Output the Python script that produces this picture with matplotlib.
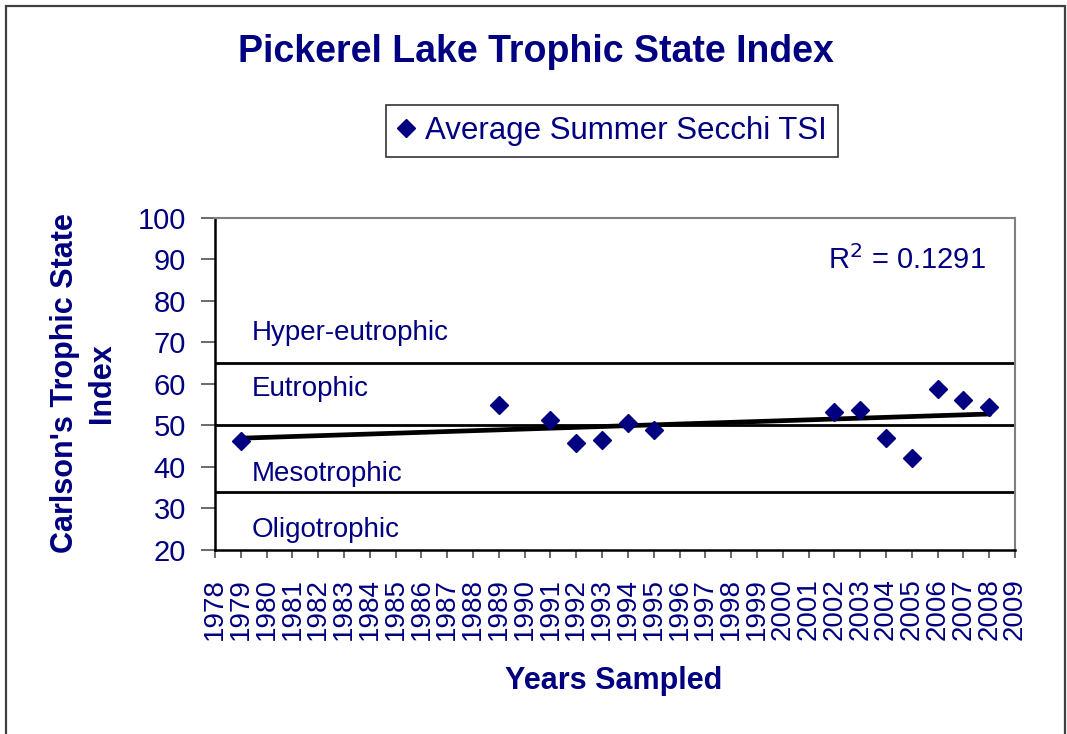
import numpy as np
import matplotlib
matplotlib.use('Agg')
import matplotlib.pyplot as plt
from matplotlib.patches import Rectangle

plt.rcParams['font.family'] = ['Liberation Sans', 'DejaVu Sans']

# Datos
years = [1979, 1989, 1991, 1992, 1993, 1994, 1995, 2002, 2003, 2004, 2005, 2006, 2007, 2008]
tsi = [46.3, 55.0, 51.3, 45.9, 46.4, 50.7, 48.8, 53.3, 53.7, 46.9, 42.2, 58.7, 56.2, 54.4]

# Límites de estado trófico
limites = [65, 50, 34]
clases = ['Hyper-eutrophic', 'Eutrophic', 'Mesotrophic', 'Oligotrophic']
clases_y = [72.2, 58.9, 38.2, 24.7]

navy = '#000080'

fig = plt.figure(figsize=(10.67, 7.34), dpi=100)
ax = fig.add_axes([0.2015, 0.2507, 0.7498, 0.4523])

for y in limites:
    ax.axhline(y, color='black', lw=2, zorder=1)

# Línea de tendencia lineal
coef = np.polyfit(years, tsi, 1)
xs = np.array([years[0], years[-1]])
ax.plot(xs, np.polyval(coef, xs), color='black', lw=3.4, zorder=2)

ax.plot(years, tsi, linestyle='none', marker='D', ms=9.5, color=navy,
        label='Average Summer Secchi TSI', zorder=3)

for nombre, y in zip(clases, clases_y):
    ax.text(0.046, y, nombre, transform=ax.get_yaxis_transform(),
            fontsize=20, color=navy, va='center')

ax.text(0.766, 89.9, 'R$^2$ = 0.1291', transform=ax.get_yaxis_transform(),
        fontsize=21, color=navy, va='center')

ax.set_xlim(1978, 2009)
ax.set_ylim(20, 100)
ax.set_xticks(range(1978, 2010))
ax.set_yticks(range(20, 101, 10))
ax.tick_params(axis='x', labelrotation=90, labelsize=20, labelcolor=navy,
               length=6, width=1.2, color='#505050', pad=14)
ax.tick_params(axis='y', labelsize=21, labelcolor=navy,
               length=10, width=1.2, color='#505050', pad=11)

for s in ['left', 'bottom']:
    ax.spines[s].set_color('black')
    ax.spines[s].set_linewidth(1.8)
for s in ['top', 'right']:
    ax.spines[s].set_color('#808080')
    ax.spines[s].set_linewidth(1.5)

fig.text(65 / 1067, 1 - 383 / 734, "Carlson's Trophic State", rotation=90,
         fontsize=22, fontweight='bold', color=navy, ha='center', va='center')
fig.text(102 / 1067, 1 - 383 / 734, 'Index', rotation=90,
         fontsize=22, fontweight='bold', color=navy, ha='center', va='center')

fig.text(0.575, 1 - 681 / 734, 'Years Sampled', fontsize=22, fontweight='bold',
         color=navy, ha='center', va='center')

fig.text(0.502, 1 - 52 / 734, 'Pickerel Lake Trophic State Index', fontsize=27,
         fontweight='bold', color=navy, ha='center', va='center')

leg = fig.legend(loc='center', bbox_to_anchor=(0.5736, 0.8215), fontsize=22.5,
                 frameon=True, fancybox=False, edgecolor='black', handlelength=0.6,
                 handletextpad=0.3, borderpad=0.35, borderaxespad=0, labelcolor=navy)
leg.get_frame().set_linewidth(1.2)

# Marco exterior del gráfico
fig.patches.append(Rectangle((6 / 1067, -0.1), 1059 / 1067, 1.1 - 6 / 734,
                             transform=fig.transFigure, fill=False,
                             edgecolor='#404040', lw=1.6))

fig.savefig('out.png', dpi=100)
